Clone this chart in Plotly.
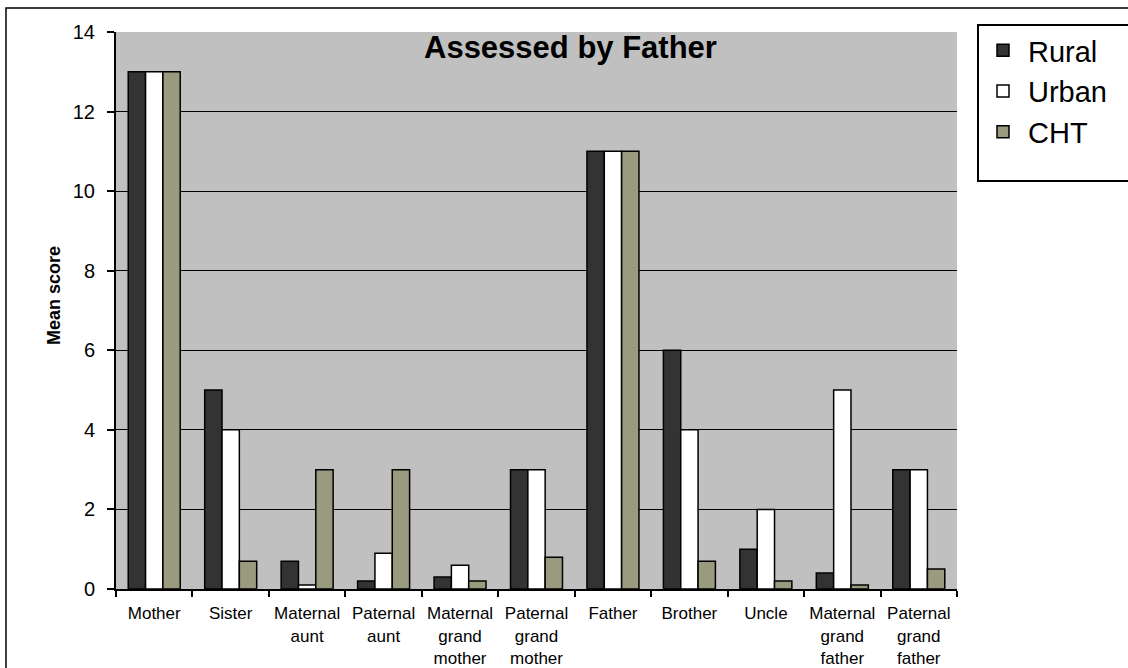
import plotly.graph_objects as go

# Relatives assessed, and mean scores per setting
categories = [
    "Mother", "Sister", "Maternal<br>aunt", "Paternal<br>aunt",
    "Maternal<br>grand<br>mother", "Paternal<br>grand<br>mother",
    "Father", "Brother", "Uncle",
    "Maternal<br>grand<br>father", "Paternal<br>grand<br>father",
]
rural = [13, 5, 0.7, 0.2, 0.3, 3, 11, 6, 1, 0.4, 3]
urban = [13, 4, 0.1, 0.9, 0.6, 3, 11, 4, 2, 5, 3]
cht = [13, 0.7, 3, 3, 0.2, 0.8, 11, 0.7, 0.2, 0.1, 0.5]

y_ticks = [0, 2, 4, 6, 8, 10, 12, 14]

FONT = "Arial, 'Liberation Sans', sans-serif"

series = [
    ("Rural", rural, "#333333"),
    ("Urban", urban, "#FFFFFF"),
    ("CHT", cht, "#9A9A7E"),
]

fig = go.Figure()
for name, vals, color in series:
    fig.add_trace(go.Bar(
        name=name, x=categories, y=vals,
        marker=dict(color=color, line=dict(color="#000000", width=1.5)),
    ))

W, H = 1128, 668
L, R, T, B = 116, 171, 32, 79
pw, ph = W - L - R, H - T - B


def px_x(p):
    return (p - L) / pw


def px_y(p):
    return (H - B - p) / ph


fig.update_layout(
    width=W, height=H,
    margin=dict(l=L, r=R, t=T, b=B, pad=0, autoexpand=False),
    paper_bgcolor="#FFFFFF",
    plot_bgcolor="#C0C0C0",
    barmode="group",
    bargap=0.32,
    bargroupgap=0,
    font=dict(family=FONT, color="#000000"),
    showlegend=True,
    legend=dict(
        x=px_x(978), y=px_y(25), xanchor="left", yanchor="top",
        bgcolor="rgba(0,0,0,0)", borderwidth=0,
        font=dict(size=29, family=FONT, color="#000000"),
        itemwidth=40, entrywidth=120, tracegroupgap=0,
    ),
    xaxis=dict(
        automargin=False,
        showline=True, linecolor="#000000", linewidth=2,
        ticks="outside", tickson="boundaries", ticklen=6, tickwidth=2,
        tickcolor="#000000",
        tickfont=dict(size=17, family=FONT),
        ticklabelstandoff=8,
        showgrid=False, zeroline=False,
    ),
    yaxis=dict(
        automargin=False,
        range=[0, 14], tickvals=y_ticks,
        showline=True, linecolor="#000000", linewidth=2,
        ticks="outside", ticklen=7, tickwidth=2, tickcolor="#000000",
        tickfont=dict(size=20, family=FONT),
        ticklabelstandoff=8,
        showgrid=True, gridcolor="#000000", gridwidth=1,
        zeroline=False,
    ),
    shapes=[
        # outer chart frame
        dict(type="rect", xref="paper", yref="paper",
             x0=px_x(6), x1=px_x(1140), y0=px_y(680), y1=px_y(8),
             line=dict(color="#000000", width=1.5), layer="below"),
        # legend frame
        dict(type="rect", xref="paper", yref="paper",
             x0=px_x(978), x1=px_x(1140), y0=px_y(181), y1=px_y(25),
             line=dict(color="#000000", width=2), fillcolor="#FFFFFF",
             layer="below"),
    ],
    annotations=[
        dict(text="<b>Assessed by Father</b>", xref="paper", yref="paper",
             x=px_x(570), y=px_y(48), xanchor="center", yanchor="middle",
             showarrow=False, font=dict(size=31, family=FONT)),
        dict(text="<b>Mean score</b>", xref="paper", yref="paper",
             x=px_x(54), y=px_y(296), xanchor="center", yanchor="middle",
             textangle=-90, showarrow=False, font=dict(size=18, family=FONT)),
    ],
)

fig.write_html("out.html")
